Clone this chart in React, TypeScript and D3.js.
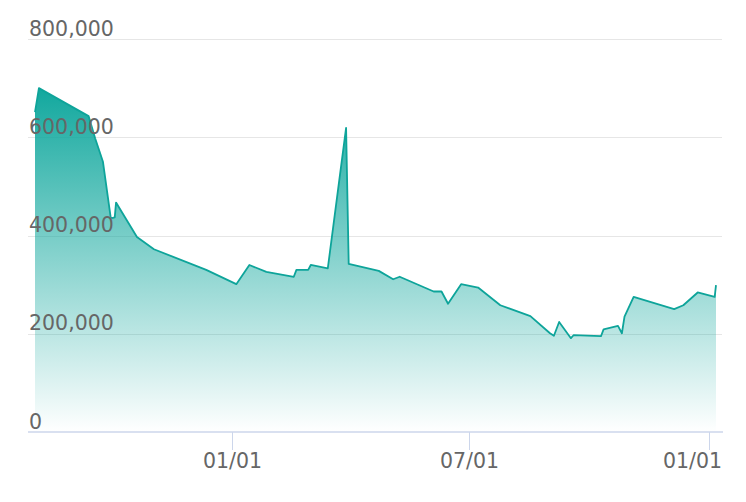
import React from "react";
import * as d3 from "d3";

const dates = [
  "2020-08-03", "2020-08-06", "2020-09-13", "2020-09-18", "2020-09-24", "2020-09-30",
  "2020-10-03", "2020-10-04", "2020-10-20", "2020-11-02", "2020-12-12", "2021-01-04",
  "2021-01-14", "2021-01-27", "2021-02-17", "2021-02-19", "2021-02-28", "2021-03-02",
  "2021-03-15", "2021-03-29", "2021-03-31", "2021-04-23", "2021-05-04", "2021-05-09",
  "2021-06-04", "2021-06-10", "2021-06-15", "2021-06-25", "2021-07-08", "2021-07-25",
  "2021-08-17", "2021-09-01", "2021-09-04", "2021-09-08", "2021-09-17", "2021-09-19",
  "2021-10-10", "2021-10-12", "2021-10-23", "2021-10-26", "2021-10-28", "2021-11-04",
  "2021-12-05", "2021-12-12", "2021-12-23", "2022-01-05", "2022-01-06",
];

const values = [
  651000, 700000, 643000, 598000, 550000, 435000,
  437000, 467000, 397000, 372000, 330000, 301000,
  340000, 326000, 316000, 330000, 330000, 340000,
  333000, 619000, 342000, 328000, 311000, 316000,
  286000, 286000, 261000, 301000, 294000, 258000,
  236000, 201000, 196000, 224000, 191000, 197000,
  195000, 209000, 216000, 201000, 235000, 275000,
  250000, 258000, 284000, 275000, 299000,
];

const yTicks = [0, 200000, 400000, 600000, 800000];
const xTickDates = ["2021-01-01", "2021-07-01", "2022-01-01"];

const W = 746;
const H = 502;
const plotLeft = 28;
const plotRight = 723;
const plotTop = 39;
const plotBottom = 432;
const pad = 7;

const teal = "#12a89e";
const lineColor = "#0ea49a";
const font = "'DejaVu Sans', Verdana, sans-serif";

export default function App() {
  const parse = d3.timeParse("%Y-%m-%d");
  const data = dates.map((d, i) => ({ date: parse(d) as Date, value: values[i] }));
  const ext = d3.extent(data, (d) => d.date) as [Date, Date];

  const x = d3.scaleTime().domain(ext).range([plotLeft + pad, plotRight - pad]);
  const y = d3.scaleLinear().domain([0, 800000]).range([plotBottom, plotTop]);

  const areaGen = d3
    .area<{ date: Date; value: number }>()
    .x((d) => x(d.date))
    .y0(y(0))
    .y1((d) => y(d.value));
  const lineGen = d3
    .line<{ date: Date; value: number }>()
    .x((d) => x(d.date))
    .y((d) => y(d.value));

  const fmt = d3.format(",");
  const tfmt = d3.timeFormat("%m/%d");
  const xTicks = xTickDates.map((s) => parse(s) as Date);

  return (
    <svg
      width={W}
      height={H}
      style={{ position: "absolute", left: 0, top: 0, background: "#fff" }}
    >
      <defs>
        <linearGradient id="fillGrad" x1="0" y1="0" x2="0" y2="1">
          <stop offset="0" stopColor={teal} stopOpacity={1} />
          <stop offset="1" stopColor={teal} stopOpacity={0} />
        </linearGradient>
      </defs>

      {yTicks.slice(1).map((t) => (
        <line
          key={"g" + t}
          x1={plotLeft}
          x2={plotRight - 1}
          y1={Math.round(y(t)) + 0.5}
          y2={Math.round(y(t)) + 0.5}
          stroke="#e6e6e6"
          strokeWidth={1}
        />
      ))}

      <path d={areaGen(data) || ""} fill="url(#fillGrad)" />
      <path
        d={lineGen(data) || ""}
        fill="none"
        stroke={lineColor}
        strokeWidth={1.8}
        strokeLinejoin="round"
      />

      <line
        x1={plotLeft}
        x2={plotRight}
        y1={plotBottom}
        y2={plotBottom}
        stroke="#ccd6eb"
        strokeWidth={1.6}
      />
      {xTicks.map((t, i) => {
        const px = Math.round(x(t)) + 0.5;
        const last = i === xTicks.length - 1;
        return (
          <g key={"x" + i}>
            <line x1={px} x2={px} y1={plotBottom} y2={plotBottom + 18} stroke="#ccd6eb" strokeWidth={1} />
            <text
              x={last ? plotRight - 1 : px}
              y={plotBottom + 36}
              textAnchor={last ? "end" : "middle"}
              fill="#666"
              fontFamily={font}
              fontSize={20.5}
            >
              {tfmt(t)}
            </text>
          </g>
        );
      })}

      {yTicks.map((t) => (
        <text
          key={"yl" + t}
          x={plotLeft + 1}
          y={y(t) - 3.5}
          fill="#666"
          fontFamily={font}
          fontSize={20.5}
        >
          {fmt(t)}
        </text>
      ))}
    </svg>
  );
}
